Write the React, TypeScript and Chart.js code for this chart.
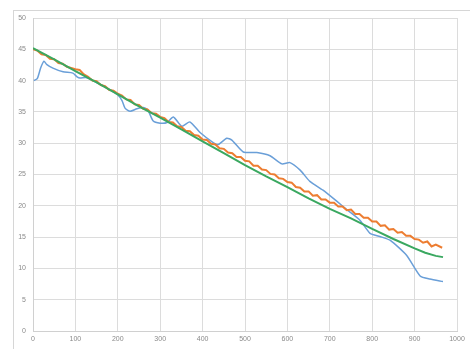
import React, { useEffect, useRef } from "react";
import { Chart, registerables } from "chart.js";

Chart.register(...registerables);

const orangeX = [
  0, 10, 20, 30, 40, 50, 60, 70, 80, 90,
  100, 110, 120, 130, 140, 150, 160, 170, 180, 190,
  200, 210, 220, 230, 240, 250, 260, 270, 280, 290,
  300, 310, 320, 330, 340, 350, 360, 370, 380, 390,
  400, 410, 420, 430, 440, 450, 460, 470, 480, 490,
  500, 510, 520, 530, 540, 550, 560, 570, 580, 590,
  600, 610, 620, 630, 640, 650, 660, 670, 680, 690,
  700, 710, 720, 730, 740, 750, 760, 770, 780, 790,
  800, 810, 820, 830, 840, 850, 860, 870, 880, 890,
  900, 910, 920, 930, 940, 950, 965,
];
const orangeY = [
  45.0, 44.8, 44.2, 44.1, 43.5, 43.4, 42.8, 42.7, 42.2, 42.0,
  41.8, 41.7, 41.0, 40.6, 40.0, 39.9, 39.3, 39.1, 38.5, 38.4,
  37.9, 37.6, 37.0, 36.9, 36.2, 36.1, 35.5, 35.4, 34.8, 34.7,
  34.2, 34.0, 33.4, 33.3, 32.7, 32.6, 32.0, 31.9, 31.3, 31.2,
  30.6, 30.5, 29.9, 29.8, 29.2, 29.1, 28.5, 28.4, 27.8, 27.8,
  27.2, 27.1, 26.4, 26.4, 25.8, 25.7, 25.1, 25.0, 24.4, 24.3,
  23.8, 23.7, 23.0, 22.9, 22.3, 22.3, 21.6, 21.7, 21.0, 21.0,
  20.5, 20.5, 19.9, 19.9, 19.3, 19.4, 18.7, 18.7, 18.1, 18.1,
  17.5, 17.5, 16.8, 16.9, 16.2, 16.3, 15.7, 15.8, 15.2, 15.2,
  14.7, 14.6, 14.1, 14.3, 13.5, 13.8, 13.3,
];

const greenX = [0, 50, 100, 150, 200, 250, 300, 350, 400, 450, 500, 550, 600, 650, 700, 750, 800, 850, 900, 925, 950, 967];
const greenY = [45.2, 43.4, 41.5, 39.7, 37.8, 35.9, 34.1, 32.2, 30.3, 28.4, 26.5, 24.7, 23.0, 21.2, 19.5, 18.0, 16.3, 14.7, 13.2, 12.5, 12.0, 11.8];

const blueX = [
  2, 10, 18, 26, 32, 47, 71, 94, 104, 111, 125, 150, 180, 200, 210, 217, 229, 245, 260, 271,
  283, 300, 316, 331, 351, 370, 394, 425, 437, 457, 469, 496, 528, 559, 587, 606, 630, 653,
  684, 717, 740, 771, 795, 818, 842, 881, 913, 936, 967,
];
const blueY = [
  40.0, 40.3, 42.0, 43.1, 42.6, 42.0, 41.4, 41.2, 40.6, 40.4, 40.5, 39.7, 38.6, 37.7, 36.8, 35.6, 35.1, 35.5, 35.7, 35.3,
  33.6, 33.2, 33.3, 34.2, 32.7, 33.4, 31.7, 30.1, 29.8, 30.8, 30.5, 28.6, 28.5, 28.0, 26.7, 26.9, 25.7, 23.9,
  22.5, 20.7, 19.4, 17.7, 15.6, 15.1, 14.5, 12.1, 8.8, 8.3, 7.9,
];

const xMin = 0, xMax = 1000, xStep = 100;
const yMin = 0, yMax = 50, yStep = 5;

const pts = (xs: number[], ys: number[]) => xs.map((x, i) => ({ x, y: ys[i] }));

export default function App() {
  const ref = useRef<HTMLCanvasElement | null>(null);
  useEffect(() => {
    document.body.style.margin = "0";
    if (!ref.current) return;
    const font = { family: "'Liberation Sans', Arial, sans-serif", size: 7 };
    const chart = new Chart(ref.current, {
      type: "line",
      data: {
        datasets: [
          { data: pts(greenX, greenY), borderColor: "#3aa860", borderWidth: 2, pointRadius: 0, tension: 0 },
          { data: pts(orangeX, orangeY), borderColor: "#ed7d31", borderWidth: 2, pointRadius: 0, tension: 0 },
          { data: pts(blueX, blueY), borderColor: "#6a9fd8", borderWidth: 1.5, pointRadius: 0, tension: 0.2 },
        ],
      },
      options: {
        animation: false,
        responsive: false,
        maintainAspectRatio: false,
        layout: { padding: { left: 0, right: 13, top: 18, bottom: 0 } },
        plugins: { legend: { display: false }, tooltip: { enabled: false } },
        scales: {
          x: {
            type: "linear",
            min: xMin,
            max: xMax,
            ticks: { stepSize: xStep, font, color: "#8a8a8a", padding: 4, callback: (v: any) => String(v) },
            grid: { color: "#dcdcdc", drawTicks: false },
            border: { color: "#d0d0d0" },
            afterFit: (s: any) => { s.height = 18; },
          },
          y: {
            min: yMin,
            max: yMax,
            ticks: { stepSize: yStep, font, color: "#8a8a8a", padding: 7, callback: (v: any) => String(v) },
            grid: { color: "#dcdcdc", drawTicks: false },
            border: { color: "#d0d0d0" },
            afterFit: (s: any) => { s.width = 33; },
          },
        },
      },
    });
    return () => chart.destroy();
  }, []);
  return (
    <div style={{ position: "relative", width: 470, height: 349, background: "#fff" }}>
      <canvas ref={ref} width={470} height={349} style={{ display: "block" }} />
      <div style={{ position: "absolute", left: 13, top: 10, right: 0, bottom: 0, borderLeft: "1px solid #d6d6d6", borderTop: "1px solid #d6d6d6", pointerEvents: "none" }} />
    </div>
  );
}
